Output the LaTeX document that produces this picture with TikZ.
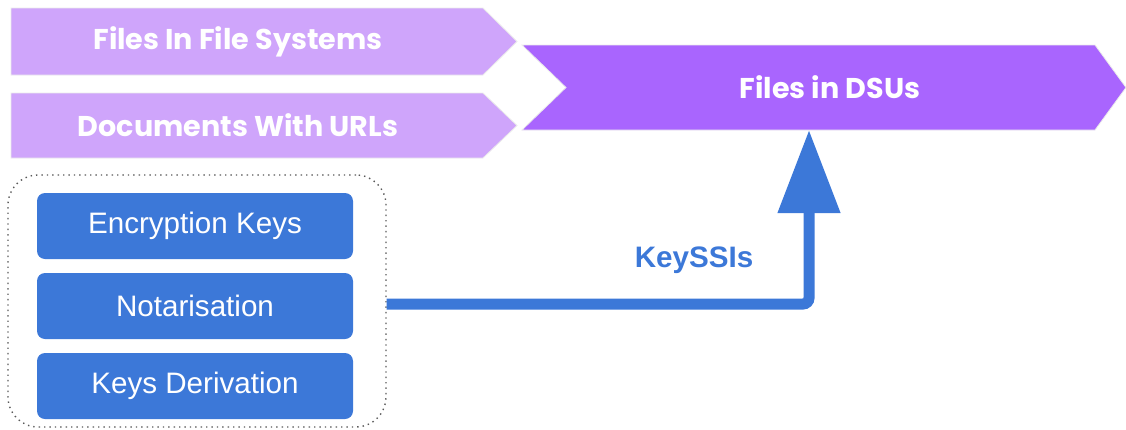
\documentclass[tikz,border=0pt]{standalone}
\usepackage{fontspec}
\setmainfont{Liberation Sans}
\newfontfamily\chevfont{Poppins}
\usepackage{xcolor}
\usepackage{tikz}
\usetikzlibrary{arrows.meta}
\definecolor{lilac}{HTML}{CFA5FB}
\definecolor{violet}{HTML}{A965FE}
\definecolor{keyblue}{HTML}{3C78D8}
\tikzstyle{lightchev} = [fill=lilac, draw=black!8, line width=0.4pt]
\tikzstyle{darkchev} = [fill=violet, draw=black!8, line width=0.4pt]
\tikzstyle{chevtext} = [text=white, font=\chevfont\bfseries\fontsize{14.3}{16}\selectfont]
\tikzstyle{keybox} = [rectangle, rounded corners=4pt, fill=keyblue, text=white, minimum width=158pt, minimum height=33pt, text centered, inner sep=2pt, font=\fontsize{14.8}{17}\selectfont]
\tikzstyle{group} = [rectangle, rounded corners=15pt, draw=black!65, dotted, line width=0.7pt, minimum width=189pt, minimum height=126pt]
\tikzstyle{keyarrow} = [keyblue, line width=5.5pt, rounded corners=3pt, -{Triangle[width=30pt,length=41.5pt]}]

\begin{document}
\begin{tikzpicture}[x=0.5pt, y=-0.5pt, node distance=40pt]
\useasboundingbox (0,0) rectangle (1126,429);

% Chevrons
\fill[lightchev] (11,8) -- (483,8) -- (517,41.5) -- (483,75) -- (11,75) -- cycle;
\fill[lightchev] (11,93) -- (483,93) -- (517,125.5) -- (483,158) -- (11,158) -- cycle;
\fill[darkchev] (522,45) -- (1095,45) -- (1126,87.5) -- (1095,130) -- (522,130) -- (566,87.5) -- cycle;
\coordinate (dsubase) at (809,130);

% Chevron labels
\node (ffs) [chevtext] at (238,41.5) {Files In File Systems};
\node (dwu) [chevtext] at (238,125.5) {Documents With URLs};
\node (dsu) [chevtext] at (830,87.5) {Files in DSUs};

% Key boxes
\node (enc) [keybox] at (195,226) {Encryption Keys};
\node (notar) [keybox, below of=enc] {Notarisation};
\node (kder) [keybox, below of=notar] {Keys Derivation};
\node (keys) [group] at (197,301) {};

% Arrow
\draw [keyarrow] (keys.east |- 0,304) -| (dsubase);
\node (kssi) [text=keyblue, font=\bfseries\fontsize{14.8}{17}\selectfont] at (694,260) {KeySSIs};

\end{tikzpicture}
\end{document}
